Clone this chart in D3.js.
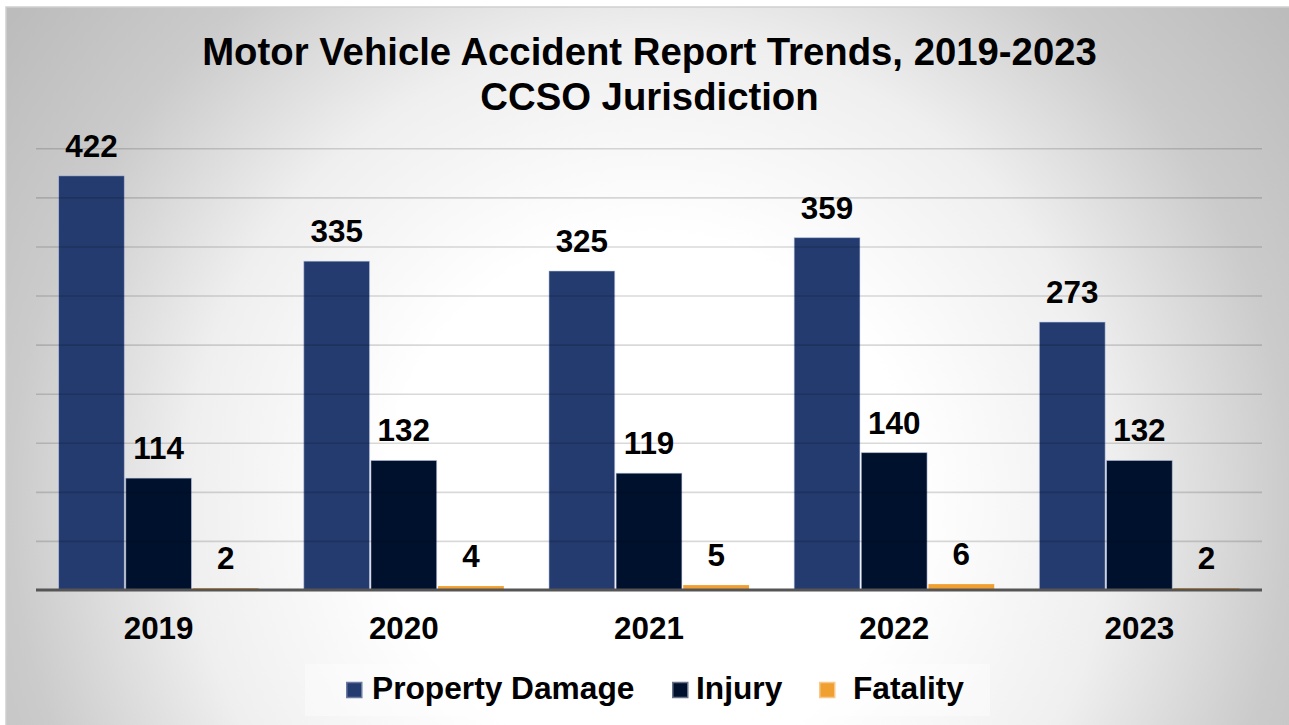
<!DOCTYPE html>
<html>
<head>
<meta charset="utf-8">
<script src="https://cdn.jsdelivr.net/npm/d3@7"></script>
<style>
  html, body { margin: 0; padding: 0; background: #ffffff; }
  svg { display: block; }
  text { font-family: "Liberation Sans", Arial, sans-serif; font-weight: bold; fill: #000; }
</style>
</head>
<body>
<svg id="chart" width="1289" height="725"></svg>
<script>
// ---- data ----
const years = ["2019", "2020", "2021", "2022", "2023"];
const seriesNames = ["Property Damage", "Injury", "Fatality"];
const propertyDamage = [422, 335, 325, 359, 273];
const injury = [114, 132, 119, 140, 132];
const fatality = [2, 4, 5, 6, 2];
const yTicks = [0, 50, 100, 150, 200, 250, 300, 350, 400, 450];
const titleLines = ["Motor Vehicle Accident Report Trends, 2019-2023", "CCSO Jurisdiction"];

const seriesValues = [propertyDamage, injury, fatality];
const colors = ["#243b6f", "#00112e", "#f0a030"];
const legendStroke = ["#6a7aa0", "#6a7288", "#f8c888"];

const svg = d3.select("#chart");
const W = 1289, H = 725;

// background gradient
const defs = svg.append("defs");
const grad = defs.append("radialGradient")
  .attr("id", "bg").attr("gradientUnits", "userSpaceOnUse")
  .attr("cx", 650).attr("cy", 500).attr("r", 800);
[[0, "#ffffff"], [0.33, "#ffffff"], [0.58, "#efefef"], [0.8, "#cbcbcb"], [1, "#bcbcbc"]]
  .forEach(([o, c]) => grad.append("stop").attr("offset", o).attr("stop-color", c));

svg.append("rect").attr("x", 6).attr("y", 7).attr("width", W + 10).attr("height", H + 10)
  .attr("fill", "url(#bg)").attr("stroke", "#cfcfcf").attr("stroke-width", 1.5);

// scales
const plotLeft = 36, plotRight = 1262, y0 = 590, yTop = 148.3;
const x0 = d3.scaleBand().domain(years).range([plotLeft, plotRight])
  .paddingInner(0.184).paddingOuter(0.092);
const x1 = d3.scaleBand().domain(seriesNames).range([0, x0.bandwidth()]).paddingInner(0.02);
const y = d3.scaleLinear().domain([0, 450]).range([y0, yTop]);

// title
svg.append("g").selectAll("text").data(titleLines).join("text")
  .attr("x", 649.5).attr("y", (d, i) => 64.5 + i * 45)
  .attr("text-anchor", "middle").attr("font-size", 38.3).text(d => d);

// bars
const groups = svg.append("g").selectAll("g").data(years).join("g")
  .attr("transform", d => `translate(${x0(d)},0)`);

groups.selectAll("rect")
  .data((d, i) => seriesNames.map((s, k) => ({ s, k, v: seriesValues[k][i] })))
  .join("rect")
  .attr("x", d => x1(d.s))
  .attr("y", d => y(d.v))
  .attr("width", x1.bandwidth())
  .attr("height", d => y0 - y(d.v))
  .attr("fill", d => colors[d.k])
  .attr("stroke", d => d.k < 2 ? "rgba(200,210,235,0.55)" : "none")
  .attr("stroke-width", 1);

// gridlines (drawn over bars, translucent)
const yAxis = d3.axisLeft(y).tickValues(yTicks.filter(t => t > 0))
  .tickSize(-(plotRight - plotLeft)).tickFormat("");
const ga = svg.append("g").attr("transform", `translate(${plotLeft},0)`).call(yAxis);
ga.select(".domain").remove();
ga.selectAll(".tick line").attr("stroke", "#000").attr("stroke-opacity", 0.15).attr("stroke-width", 1.6);

// baseline / x axis
const xAxis = d3.axisBottom(x0).tickSize(0).tickPadding(0);
const gx = svg.append("g").attr("transform", `translate(0,${y0})`).call(xAxis);
gx.select(".domain").attr("stroke", "#555555").attr("stroke-width", 3)
  .attr("d", `M${plotLeft},0H${plotRight}`);
gx.selectAll(".tick text")
  .attr("y", 49).attr("dy", 0)
  .attr("font-size", 31.4).attr("font-family", "Liberation Sans, Arial, sans-serif")
  .attr("font-weight", "bold").attr("fill", "#000");

// value labels
groups.selectAll("text.val")
  .data((d, i) => seriesNames.map((s, k) => ({ s, k, v: seriesValues[k][i] })))
  .join("text").attr("class", "val")
  .attr("x", d => x1(d.s) + x1.bandwidth() / 2)
  .attr("y", d => Math.min(y(d.v) - 19, y0 - 18))
  .attr("text-anchor", "middle").attr("font-size", 31.4)
  .text(d => d.v);

// legend
const legend = svg.append("g");
legend.append("rect").attr("x", 305).attr("y", 664).attr("width", 685).attr("height", 52)
  .attr("fill", "#ffffff").attr("fill-opacity", 0.4);
const legendX = [346, 672, 819];
const legendTextOff = [26, 24, 34];
const items = legend.selectAll("g").data(seriesNames).join("g")
  .attr("transform", (d, i) => `translate(${legendX[i]},0)`);
items.append("rect").attr("x", 0.75).attr("y", 682.5).attr("width", 15).attr("height", 15)
  .attr("fill", (d, i) => colors[i]).attr("stroke", (d, i) => legendStroke[i]).attr("stroke-width", 1.5);
items.append("text").attr("x", (d, i) => legendTextOff[i]).attr("y", 699)
  .attr("font-size", 31.7).text(d => d);
</script>
</body>
</html>
